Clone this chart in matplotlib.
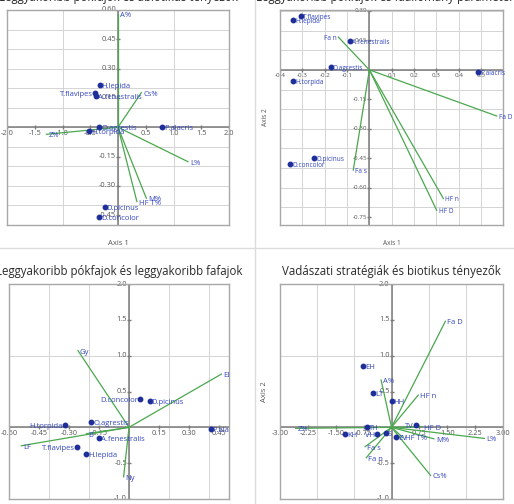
import numpy as np
import matplotlib
matplotlib.use("Agg")
import matplotlib.pyplot as plt
from matplotlib.transforms import offset_copy
from matplotlib.lines import Line2D

plt.rcParams['font.family'] = ['Open Sans', 'DejaVu Sans']

# ---------------- data ----------------
species = ["T.flavipes", "H.lepida", "A.fenestralis", "O.agrestis",
           "H.torpida", "P.alacris", "D.picinus", "D.concolor"]

# panel 1: spiders + abiotic factors
sp1_x = [-0.41, -0.33, -0.40, -0.34, -0.52, 0.79, -0.24, -0.34]
sp1_y = [0.174, 0.216, 0.162, 0.0, -0.017, 0.003, -0.41, -0.46]
vec1 = ["A%", "Cs%", "L%", "M%", "HF T%", "Z%"]
vec1_x = [0.0, 0.42, 1.26, 0.51, 0.34, -1.29]
vec1_y = [0.58, 0.177, -0.176, -0.363, -0.38, -0.036]

# panel 2: spiders + stand parameters
sp2_x = [-0.306, -0.34, -0.087, -0.173, -0.34, 0.488, -0.248, -0.355]
sp2_y = [0.275, 0.254, 0.147, 0.014, -0.058, -0.01, -0.447, -0.48]
vec2 = ["Fa n", "Fa D", "HF n", "HF D", "Fa s"]
vec2_x = [-0.139, 0.57, 0.331, 0.301, -0.072]
vec2_y = [0.167, -0.235, -0.655, -0.715, -0.51]

# panel 3: spiders + tree species
sp3_x = [-0.26, -0.213, -0.152, -0.188, -0.32, 0.408, 0.103, 0.057]
sp3_y = [-0.27, -0.374, -0.155, 0.08, 0.03, -0.023, 0.374, 0.39]
vec3 = ["Gy", "EL", "LF", "Ny", "B"]
vec3_x = [-0.255, 0.462, -0.538, -0.027, -0.213]
vec3_y = [1.07, 0.743, -0.257, -0.69, -0.089]

# panel 4: hunting strategies + biotic factors
guild4 = ["EH", "LT", "HH", "TH", "KH", "VH", "S", "EV", "TV"]
guild4_x = [-0.76, -0.50, 0.0, -0.66, -1.24, -0.39, -0.15, 0.125, 0.66]
guild4_y = [0.85, 0.477, 0.37, 0.0, -0.093, -0.089, -0.08, -0.14, 0.028]
vec4 = ["Z%", "Fa s", "Fa n", "A%", "Fa D", "HF n", "HF D", "HF T%", "M%", "L%", "Cs%"]
vec4_x = [-2.58, -0.71, -0.68, -0.28, 1.45, 0.72, 0.82, 0.30, 1.14, 2.5, 1.05]
vec4_y = [-0.014, -0.27, -0.425, 0.66, 1.48, 0.45, 0.01, -0.14, -0.16, -0.155, -0.67]

titles = ["Leggyakoribb pókfajok és abiotikus tényezők",
          "Leggyakoribb pókfajok és faállomány paraméterek",
          "Leggyakoribb pókfajok és leggyakoribb fafajok",
          "Vadászati stratégiák és biotikus tényezők"]

# ---------------- style ----------------
W, H = 514, 504
PT_COL = "#1f2f9a"
LB_COL = "#3346c0"
VEC_COL = "#4aa84e"
GRID_COL = "#d4d4d4"
FRAME_COL = "#a8a8a8"
ZERO_COL = "#7a7a7a"
TICK_COL = "#555555"
TITLE_FS = 8.3

fig = plt.figure(figsize=(W / 100, H / 100), dpi=100)


def add_axes(l, r, t, b):
    return fig.add_axes([l / W, 1 - b / H, (r - l) / W, (b - t) / H])


def biplot(ax, xlim, ylim, xgrid, ygrid, xticks, yticks, xfmt, yfmt,
           px, py, plab, vx, vy, vlab, left_labels=(), fs=5.5, tfs=5.3,
           clip=False):
    ax.set_xlim(*xlim)
    ax.set_ylim(*ylim)
    ax.set_xticks([])
    ax.set_yticks([])
    for s in ax.spines.values():
        s.set_color(FRAME_COL)
        s.set_linewidth(1.0)
    for g in xgrid:
        ax.axvline(g, color=GRID_COL, lw=0.7, zorder=0)
    for g in ygrid:
        ax.axhline(g, color=GRID_COL, lw=0.7, zorder=0)
    ax.axhline(0, color=ZERO_COL, lw=1.1, zorder=1)
    ax.axvline(0, color=ZERO_COL, lw=1.1, zorder=1)

    # tick labels drawn along the zero lines, PAST style
    tl = offset_copy(ax.transData, fig=fig, x=-2, y=0, units='dots')
    tb = offset_copy(ax.transData, fig=fig, x=0, y=-3, units='dots')
    for t in yticks:
        ax.plot([0], [t], marker='_', ms=3, color=ZERO_COL, zorder=1)
        ax.text(0, t, yfmt.format(t), transform=tl, ha='right', va='center',
                fontsize=tfs, color=TICK_COL, zorder=2)
    for t in xticks:
        ax.plot([t], [0], marker='|', ms=3, color=ZERO_COL, zorder=1)
        ax.text(t, 0, xfmt.format(t), transform=tb, ha='center', va='top',
                fontsize=tfs, color=TICK_COL, zorder=2)

    # vectors
    for x, y in zip(vx, vy):
        ax.plot([0, x], [0, y], color=VEC_COL, lw=0.9, zorder=3)
    # points
    ax.plot(px, py, 'o', ms=3.2, color=PT_COL, zorder=4)

    tr_r = offset_copy(ax.transData, fig=fig, x=2, y=2, units='dots')
    tr_l = offset_copy(ax.transData, fig=fig, x=-2, y=2, units='dots')
    for x, y, s in list(zip(px, py, plab)) + list(zip(vx, vy, vlab)):
        if s in left_labels:
            ax.text(x, y, s, transform=tr_l, ha='right', va='top',
                    fontsize=fs, color=LB_COL, zorder=5, clip_on=clip)
        else:
            ax.text(x, y, s, transform=tr_r, ha='left', va='top',
                    fontsize=fs, color=LB_COL, zorder=5, clip_on=clip)


# panel 1
ax1 = add_axes(7, 229, 10, 225)
biplot(ax1, (-2.0, 2.0), (-0.5, 0.6),
       np.arange(-2, 2.01, 1.0), np.arange(-0.5, 0.61, 0.1),
       [-2.0, -1.5, -1.0, -0.5, 0.5, 1.0, 1.5, 2.0],
       [-0.45, -0.30, -0.15, 0.15, 0.30, 0.45, 0.60], "{:.1f}", "{:.2f}",
       sp1_x, sp1_y, species, vec1_x, vec1_y, vec1,
       left_labels=("T.flavipes",))
ax1.set_title(titles[0], fontsize=TITLE_FS, color="#2a2a2a", pad=6.8)
ax1.text(0.5, -0.07, "Axis 1", transform=ax1.transAxes, ha='center',
         va='top', fontsize=5.5, color=TICK_COL)

# panel 2
ax2 = add_axes(280, 503, 10, 225)
biplot(ax2, (-0.4, 0.598), (-0.79, 0.305),
       np.arange(-0.4, 0.61, 0.1), np.arange(-0.7, 0.31, 0.1),
       [-0.4, -0.3, -0.2, -0.1, 0.1, 0.2, 0.3, 0.4, 0.5],
       [-0.75, -0.60, -0.45, -0.30, -0.15, 0.15, 0.30], "{:.1f}", "{:.2f}",
       sp2_x, sp2_y, species, vec2_x, vec2_y, vec2,
       left_labels=("Fa n",), fs=4.7, tfs=4.5)
ax2.set_title(titles[1], fontsize=TITLE_FS, color="#2a2a2a", pad=6.8)
ax2.text(0.5, -0.07, "Axis 1", transform=ax2.transAxes, ha='center',
         va='top', fontsize=4.7, color=TICK_COL)
ax2.text(-0.05, 0.5, "Axis 2", transform=ax2.transAxes, ha='right',
         va='center', rotation=90, fontsize=4.7, color=TICK_COL)

# panel 3
ax3 = add_axes(9, 229, 284, 499)
biplot(ax3, (-0.6, 0.5), (-1.0, 2.0),
       np.arange(-0.6, 0.51, 0.2), np.arange(-1.0, 2.01, 1.0),
       [-0.60, -0.45, -0.30, -0.15, 0.15, 0.30, 0.45],
       [-1.0, -0.5, 0.5, 1.0, 1.5, 2.0], "{:.2f}", "{:.1f}",
       sp3_x, sp3_y, species, vec3_x, vec3_y, vec3,
       left_labels=("T.flavipes", "H.torpida", "D.concolor"), clip=True)
ax3.set_title(titles[2], fontsize=TITLE_FS, color="#2a2a2a", pad=6.8)

# panel 4
ax4 = add_axes(280, 503, 284, 499)
biplot(ax4, (-3.0, 3.0), (-1.0, 2.0),
       np.arange(-3, 3.01, 1.0), np.arange(-1.0, 2.01, 1.0),
       [-3.0, -2.25, -1.5, -0.75, 0.75, 1.5, 2.25, 3.0],
       [-1.0, -0.5, 0.5, 1.0, 1.5, 2.0], "{:.2f}", "{:.1f}",
       guild4_x, guild4_y, guild4, vec4_x, vec4_y, vec4,
       left_labels=("VH", "TV"))
ax4.set_title(titles[3], fontsize=TITLE_FS, color="#2a2a2a", pad=6.8)
ax4.text(-0.055, 0.5, "Axis 2", transform=ax4.transAxes, ha='right',
         va='center', rotation=90, fontsize=5.5, color=TICK_COL)

# separators between the screenshots
fig.add_artist(Line2D([255 / W, 255 / W], [0, 1], color="#dcdcdc", lw=1.0))
fig.add_artist(Line2D([0, 1], [1 - 248 / H, 1 - 248 / H], color="#dcdcdc", lw=1.0))

fig.savefig("out.png", dpi=100)
